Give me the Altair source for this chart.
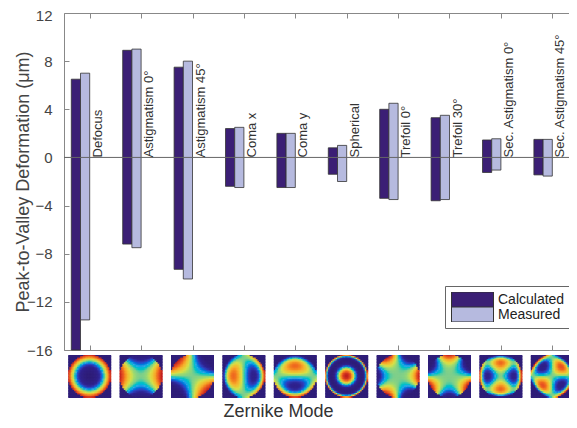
import altair as alt
import numpy as np
import pandas as pd

# ---------------- data ----------------
modes = ["Defocus", "Astigmatism 0°", "Astigmatism 45°", "Coma x", "Coma y",
         "Spherical", "Trefoil 0°", "Trefoil 30°", "Sec. Astigmatism 0°",
         "Sec. Astigmatism 45°"]
calc_high = [6.5, 8.9, 7.5, 2.4, 2.0, 0.8, 4.0, 3.3, 1.45, 1.5]
calc_low = [-16.0, -7.2, -9.3, -2.4, -2.5, -1.4, -3.4, -3.6, -1.25, -1.45]
meas_high = [7.0, 9.0, 8.0, 2.5, 2.0, 1.0, 4.5, 3.5, 1.55, 1.5]
meas_low = [-13.5, -7.5, -10.1, -2.5, -2.5, -2.0, -3.5, -3.5, -1.05, -1.55]
series = ["Calculated", "Measured"]
y_ticks = [-16, -12, -8, -4, 0, 4, 8, 12]
mode_index = list(range(1, len(modes) + 1))

# ---------------- layout / style constants ----------------
W, H = 505, 337
PX = 51.4  # pixels per category
x_dom = [0.5, 0.5 + W / PX]
y_dom = [-16, 12]
bar_w = 9.2 / PX
dark, light = "#3b1f75", "#b6badf"
jet_stops = [0, 0.2, 0.3, 0.4, 0.5, 0.6, 0.72, 0.85, 1]
jet = ["#2e1d78", "#2f2290", "#2c48c8", "#3aa8e6", "#7fcf8a",
       "#d8e04a", "#f6b030", "#ec5a22", "#c21e1e"]
FONT = "Liberation Sans"

xs = alt.Scale(domain=x_dom, nice=False, zero=False)
ys = alt.Scale(domain=y_dom, nice=False, zero=False)

# bars table
rows = []
for k, idx in enumerate(mode_index):
    rows.append(dict(series="Calculated", x0=idx - 2 * bar_w, x1=idx - bar_w,
                     lo=calc_low[k], hi=calc_high[k]))
    rows.append(dict(series="Measured", x0=idx - bar_w, x1=idx,
                     lo=meas_low[k], hi=meas_high[k]))
bar_df = pd.DataFrame(rows)

label_df = pd.DataFrame({"mode": modes, "xt": [i + 2.0 / PX for i in mode_index],
                         "y0": [0.0] * len(modes)})

# Zernike mode thumbnails (shape of each mode, jet coloured)
def zern(k, x, y):
    r2 = x * x + y * y
    return [
        2 * r2 - 1,
        x * x - y * y,
        2 * x * y,
        (3 * r2 - 2) * x,
        (3 * r2 - 2) * y,
        6 * r2 * r2 - 6 * r2 + 1,
        x ** 3 - 3 * x * y * y,
        3 * x * x * y - y ** 3,
        (4 * r2 - 3) * (x * x - y * y),
        (4 * r2 - 3) * 2 * x * y,
    ][k]

N = 28
g = (np.arange(N) + 0.5) / N * 2 - 1
GX, GY = np.meshgrid(g, g)
inside = GX ** 2 + GY ** 2 <= 1.0
hx, hy = 21.5 / PX, 1.786
yc = -18.2
cells = []
for k, idx in enumerate(mode_index):
    z = zern(k, GX, GY)
    zi = z[inside]
    v = np.where(inside, (z - zi.min()) / (zi.max() - zi.min()), 0.0)
    cw = hx / N * 1.5
    ch = hy / N * 1.5
    for a in range(N):
        for b in range(N):
            cx = idx + GX[a, b] * hx
            cy = yc - GY[a, b] * hy
            cells.append((max(cx - cw, idx - hx), min(cx + cw, idx + hx),
                          max(cy - ch, yc - hy), min(cy + ch, yc + hy), float(v[a, b])))
cell_df = pd.DataFrame(cells, columns=["cx0", "cx1", "cy0", "cy1", "v"])

# ---------------- layers ----------------
images = alt.Chart(cell_df).mark_rect().encode(
    x=alt.X("cx0:Q", scale=xs,
            axis=alt.Axis(orient="top", offset=-H, values=mode_index, labels=False,
                          domain=False, ticks=True, tickSize=5, tickColor="#888",
                          grid=False, title=None)),
    x2="cx1:Q",
    y=alt.Y("cy0:Q", scale=ys, axis=None),
    y2="cy1:Q",
    color=alt.Color("v:Q", scale=alt.Scale(domain=jet_stops, range=jet), legend=None),
)

bars = alt.Chart(bar_df).mark_bar(stroke="#333", strokeWidth=0.8).encode(
    x=alt.X("x0:Q", scale=xs,
            axis=alt.Axis(orient="bottom", domain=True, domainColor="#888", ticks=False,
                          labels=False, grid=False, title="Zernike Mode",
                          titleFontSize=18, titleFontWeight="normal", titleColor="#333",
                          titleX=214, titleY=66, titleBaseline="alphabetic",
                          titleAlign="center")),
    x2="x1:Q",
    y=alt.Y("lo:Q", scale=ys,
            axis=alt.Axis(orient="left", values=y_ticks, domain=True, domainColor="#888",
                          ticks=False, tickSize=0, labelFontSize=15, labelColor="#444",
                          labelPadding=12, grid=False,
                          labelOffset={"condition": {"test": "datum.value == 12", "value": 2},
                                       "value": 0},
                          title="Peak-to-Valley Deformation (μm)", titleFontSize=18,
                          titleFontWeight="normal", titleColor="#444", titleX=-35.5,
                          titleY=H / 2, titleBaseline="alphabetic", titleAlign="center",
                          titleAngle=270)),
    y2="hi:Q",
    color=alt.Color("series:N", scale=alt.Scale(domain=series, range=[dark, light]),
                    legend=alt.Legend(orient="none", legendX=381, legendY=273, title=None,
                                      symbolType="M-1,-0.357L1,-0.357L1,0.357L-1,0.357Z",
                                      symbolSize=1764, symbolStrokeColor="#333",
                                      symbolStrokeWidth=1, symbolOpacity=1, clipHeight=15,
                                      labelFontSize=14, labelColor="#222", labelOffset=4,
                                      padding=6, strokeColor="#666", fillColor="white",
                                      rowPadding=0)),
)

zero = alt.Chart(pd.DataFrame({"y": [0.0]})).mark_rule(color="#666", strokeWidth=1).encode(
    y=alt.Y("y:Q", scale=ys,
            axis=alt.Axis(orient="right", offset=-W, values=y_ticks, labels=False,
                          domain=False, ticks=True, tickSize=5, tickColor="#888",
                          grid=False, title=None)),
)

labels = alt.Chart(label_df).mark_text(angle=270, align="left", baseline="top",
                                       fontSize=13, color="#333").encode(
    x=alt.X("xt:Q", scale=xs,
            axis=alt.Axis(orient="bottom", offset=-H, values=mode_index, labels=False,
                          domain=True, domainColor="#888", ticks=True, tickSize=5,
                          tickColor="#888", grid=False, title=None)),
    y=alt.Y("y0:Q", scale=ys, axis=None),
    text="mode:N",
)

chart = alt.layer(images, bars, zero, labels).resolve_scale(
    color="independent"
).resolve_axis(x="independent", y="independent").properties(
    width=W, height=H,
    padding={"left": 56, "top": 5, "right": 0, "bottom": 70},
    autosize=alt.AutoSizeParams(type="none"),
).configure(font=FONT).configure_view(stroke=None)

chart.save("out.html", embed_options={"renderer": "svg", "actions": False})
